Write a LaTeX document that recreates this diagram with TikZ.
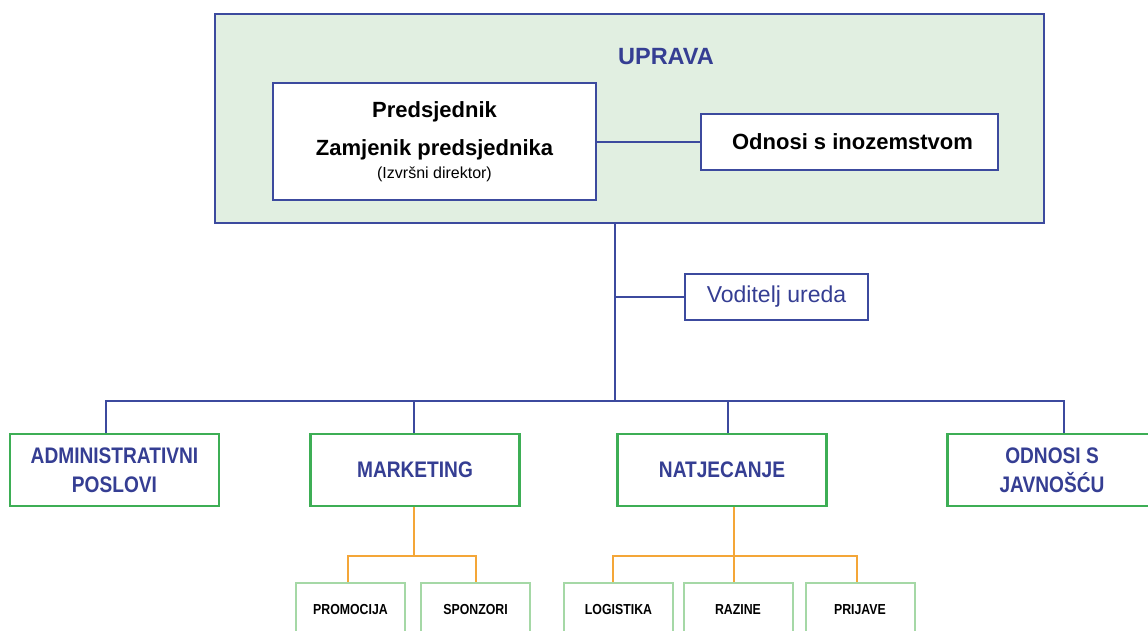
\documentclass[tikz,border=0pt]{standalone}
\usepackage{fontspec}
\setmainfont{Liberation Sans}
\newfontfamily\narrowfont{Liberation Sans}[FakeStretch=0.85]
\usepackage{tikz}
\usetikzlibrary{calc,positioning}

\definecolor{navy}{HTML}{3C4A9E}
\definecolor{inkblue}{HTML}{353E93}
\definecolor{palegreen}{HTML}{E1EFE1}
\definecolor{boxgreen}{HTML}{3DAE55}
\definecolor{lightgreen}{HTML}{A5D8A6}
\definecolor{deptorange}{HTML}{F4A638}

\tikzset{
  upravabox/.style={draw=navy, line width=2.2pt, fill=palegreen, inner sep=0pt,
    minimum width=829pt, minimum height=209pt},
  whitebox/.style={draw=navy, line width=2pt, fill=white, inner sep=0pt, align=center},
  deptbox/.style={draw=boxgreen, line width=2.4pt, fill=white, inner sep=0pt,
    minimum width=209pt, minimum height=72pt, align=center, text=inkblue,
    font=\narrowfont\bfseries\fontsize{22.5}{29}\selectfont},
  subbox/.style={draw=lightgreen, line width=2pt, fill=white, inner sep=0pt,
    minimum width=109pt, text height=31pt, text depth=49pt, anchor=north,
    font=\narrowfont\bfseries\fontsize{14.5}{16}\selectfont},
  navyline/.style={draw=navy, line width=2pt},
  orangeline/.style={draw=deptorange, line width=2pt}
}

\begin{document}
\begin{tikzpicture}[x=1pt,y=-1pt]
    \useasboundingbox (0,0) rectangle (1148,630);
    \clip (0,0) rectangle (1148,630);

    % uprava
    \node[upravabox] at (629.5,118.5) (uprava) {};
    \node[text=inkblue, font=\bfseries\fontsize{23.5}{26}\selectfont] at (666,57) (upravatitle) {UPRAVA};
    \node[whitebox, minimum width=323pt, minimum height=117pt,
          font=\bfseries\fontsize{22}{23}\selectfont] at (434.5,141.5) (pred)
          {Predsjednik\\[14.5pt] Zamjenik predsjednika\\ {\mdseries\fontsize{16}{16}\selectfont (Izvršni direktor)}};
    \node[whitebox, minimum width=297pt, minimum height=56pt,
          font=\bfseries\fontsize{22}{24}\selectfont] at (849.5,141.5) (inoz) {\hspace{6pt}Odnosi s inozemstvom};
    \draw[navyline] (pred.east) -- (inoz.west);

    % voditelj ureda
    \coordinate (hub) at (615,401);
    \node[whitebox, minimum width=183pt, minimum height=46pt, text=inkblue,
          font=\fontsize{23}{25}\selectfont] at (776.5,297) (voditelj) {Voditelj ureda};
    \draw[navyline] (hub |- uprava.south) -- (hub);
    \draw[navyline] (voditelj.west) -- (voditelj.west -| hub);

    % odjeli
    \node[deptbox] at (114.5,470) (admin) {ADMINISTRATIVNI\\POSLOVI};
    \node[deptbox] at (415,470) (marketing) {MARKETING};
    \node[deptbox] at (722,470) (natj) {NATJECANJE};
    \node[deptbox] at (1052,470) (javnost) {ODNOSI S\\JAVNOŠĆU};
    \draw[navyline] ([xshift=-8.5pt]admin.north) |- (hub) -| ([xshift=12pt]javnost.north);
    \draw[navyline] ([xshift=-1pt]marketing.north) -- ([xshift=-1pt]marketing.north |- hub);
    \draw[navyline] ([xshift=6pt]natj.north) -- ([xshift=6pt]natj.north |- hub);

    % pododjeli
    \node[subbox] at (350.5,582) (promo) {PROMOCIJA};
    \node[subbox] at (475.5,582) (sponz) {SPONZORI};
    \node[subbox] at (618.5,582) (logist) {LOGISTIKA};
    \node[subbox] at (738,582) (razine) {RAZINE};
    \node[subbox] at (860,582) (prijave) {PRIJAVE};

    \coordinate (msplit) at (414,556);
    \coordinate (nsplit) at (734,556);
    \draw[orangeline] (marketing.south -| msplit) -- (msplit);
    \draw[orangeline] ([xshift=-2.5pt]promo.north) |- (msplit) -| (sponz.north);
    \draw[orangeline] (natj.south -| nsplit) -- (nsplit);
    \draw[orangeline] ([xshift=-5.5pt]logist.north) |- (nsplit) -| ([xshift=-3pt]prijave.north);
    \draw[orangeline] (nsplit) -- (nsplit |- razine.north);
\end{tikzpicture}
\end{document}
